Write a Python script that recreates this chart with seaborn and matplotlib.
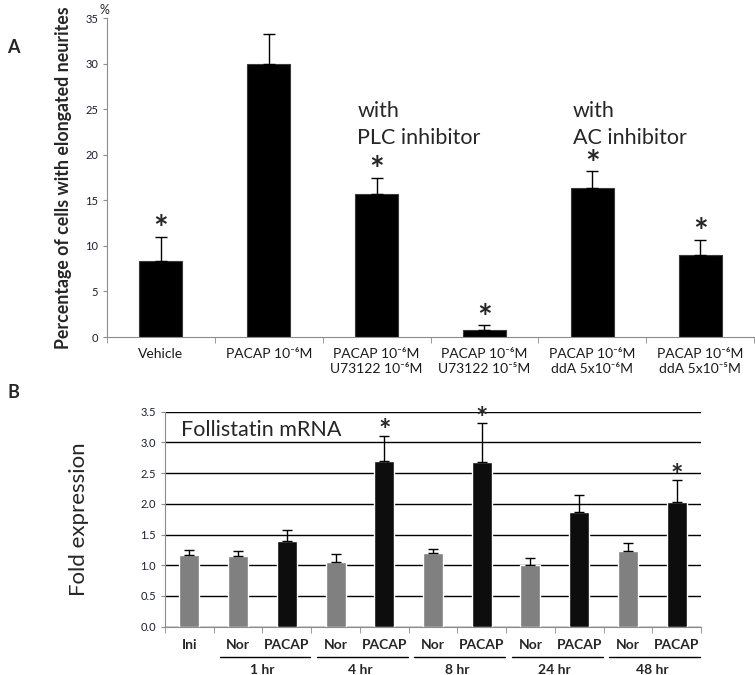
import numpy as np
import pandas as pd
import matplotlib
matplotlib.use("Agg")
import matplotlib.pyplot as plt
import matplotlib.transforms as mtransforms
import seaborn as sns

# Panel A data
a_labels = ["Vehicle", "PACAP 10⁻⁶M", "PACAP 10⁻⁶M\nU73122 10⁻⁶M",
            "PACAP 10⁻⁶M\nU73122 10⁻⁵M", "PACAP 10⁻⁶M\nddA 5x10⁻⁶M",
            "PACAP 10⁻⁶M\nddA 5x10⁻⁵M"]
a_values = [8.3, 30.0, 15.7, 0.8, 16.4, 9.0]
a_errors = [2.7, 3.2, 1.8, 0.5, 1.8, 1.7]
a_signif = [True, False, True, True, True, True]

# Panel B data
b_ids = ["Ini", "1 Nor", "1 PACAP", "4 Nor", "4 PACAP", "8 Nor", "8 PACAP",
         "24 Nor", "24 PACAP", "48 Nor", "48 PACAP"]
b_ticklabels = ["Ini", "Nor", "PACAP", "Nor", "PACAP", "Nor", "PACAP",
                "Nor", "PACAP", "Nor", "PACAP"]
b_kind = ["ctrl", "ctrl", "pacap", "ctrl", "pacap", "ctrl", "pacap",
          "ctrl", "pacap", "ctrl", "pacap"]
b_values = [1.17, 1.15, 1.39, 1.05, 2.70, 1.20, 2.68, 1.00, 1.87, 1.23, 2.03]
b_errors = [0.08, 0.09, 0.19, 0.13, 0.41, 0.06, 0.63, 0.11, 0.27, 0.14, 0.35]
b_signif = [False, False, False, False, True, False, True, False, False, False, True]
b_groups = ["1 hr", "4 hr", "8 hr", "24 hr", "48 hr"]

sns.set_style("white")
plt.rcParams['font.family'] = ['Lato', 'DejaVu Sans']

fig = plt.figure(figsize=(7.55, 6.75), dpi=100)
spine_col = "#8c8c8c"

# ---------------- Panel A ----------------
axA = fig.add_axes([0.1417, 0.5007, 0.857, 0.4726])
dfA = pd.DataFrame({"cond": a_labels, "value": a_values})
sns.barplot(data=dfA, x="cond", y="value", color="black", saturation=1,
            width=0.4, edgecolor="#3a3a3a", linewidth=0.8, ax=axA)
axA.errorbar(np.arange(len(a_values)), a_values, yerr=[np.zeros(len(a_errors)), a_errors],
             fmt="none", ecolor="black", elinewidth=1, capsize=4, capthick=1)
for i, (v, e, s) in enumerate(zip(a_values, a_errors, a_signif)):
    if s:
        axA.annotate("*", (i, v + e), xytext=(0, -7), textcoords="offset points",
                     ha="center", va="bottom", fontsize=25, fontweight="bold")
axA.set_ylim(0, 35)
axA.set_xlim(-0.5, 5.5)
axA.set_yticks(range(0, 36, 5))
axA.tick_params(axis="y", labelsize=8, colors="#1c1c33", length=3, direction="out", left=True)
axA.tick_params(axis="y", color=spine_col)
axA.set_xticks(range(6))
axA.set_xticklabels(a_labels, fontsize=10, linespacing=1.25)
axA.tick_params(axis="x", which="major", length=0, pad=8, labelcolor="#1a1a1a")
axA.set_xticks(np.arange(-0.5, 6, 1), minor=True)
axA.tick_params(axis="x", which="minor", length=4, color=spine_col, direction="out", bottom=True)
for side in ["top", "right"]:
    axA.spines[side].set_visible(False)
for side in ["left", "bottom"]:
    axA.spines[side].set_color(spine_col)
axA.set_xlabel("")
axA.set_ylabel("Percentage of cells with elongated neurites", fontsize=12.8,
               fontweight="bold", labelpad=9)
axA.text(1.82, 20.7, "with\nPLC inhibitor", fontsize=15.5,
         ha="left", va="bottom", linespacing=1.45)
axA.text(3.82, 20.7, "with\nAC inhibitor", fontsize=15.5,
         ha="left", va="bottom", linespacing=1.45)
fig.text(0.138, 0.985, "%", fontsize=9, ha="center", va="center")
fig.text(0.01, 0.93, "A", fontsize=13, fontweight="bold", va="center")

# ---------------- Panel B ----------------
axB = fig.add_axes([0.2185, 0.0716, 0.710, 0.3185])
dfB = pd.DataFrame({"id": b_ids, "value": b_values, "kind": b_kind})
sns.barplot(data=dfB, x="id", y="value", hue="kind", dodge=False, saturation=1,
            palette={"ctrl": "#808080", "pacap": "#0d0d0d"}, width=0.41,
            legend=False, ax=axB, zorder=3)
axB.errorbar(np.arange(len(b_values)), b_values, yerr=[np.zeros(len(b_errors)), b_errors],
             fmt="none", ecolor="black", elinewidth=1, capsize=3.5, capthick=1, zorder=4)
for i, (v, e, s) in enumerate(zip(b_values, b_errors, b_signif)):
    if s:
        axB.annotate("*", (i, v + e), xytext=(0, -6), textcoords="offset points",
                     ha="center", va="bottom", fontsize=21, fontweight="bold",
                     annotation_clip=False)
axB.set_ylim(0, 3.5)
axB.set_xlim(-0.5, 10.5)
axB.set_yticks(np.arange(0, 3.51, 0.5))
axB.set_yticklabels([f"{t:.1f}" for t in np.arange(0, 3.51, 0.5)])
axB.yaxis.grid(True, color="black", linewidth=1)
axB.set_axisbelow(True)
axB.tick_params(axis="y", labelsize=8, colors="#1c1c33", length=3, direction="out", left=True)
axB.tick_params(axis="y", color=spine_col)
axB.set_xticks(range(len(b_ids)))
axB.set_xticklabels(b_ticklabels, fontsize=10, fontweight="bold")
axB.tick_params(axis="x", which="major", length=0, pad=9)
axB.set_xticks(np.arange(-0.5, 11, 1), minor=True)
axB.tick_params(axis="x", which="minor", length=4, color=spine_col, direction="out", bottom=True)
for side in ["top", "right"]:
    axB.spines[side].set_visible(False)
for side in ["left", "bottom"]:
    axB.spines[side].set_color(spine_col)
axB.set_xlabel("")
axB.set_ylabel("Fold expression", fontsize=16, labelpad=37)
axB.text(0.03, 0.96, "Follistatin mRNA", transform=axB.transAxes, fontsize=15.5,
         ha="left", va="top")

trans = mtransforms.blended_transform_factory(axB.transData, axB.transAxes)
for g, name in enumerate(b_groups):
    start = 0.5 + 2 * g
    end = start + 2
    axB.plot([start + 0.12, end - 0.02], [-0.14, -0.14], color="black", linewidth=1,
             transform=trans, clip_on=False)
    axB.text((start + end) / 2, -0.2, name, transform=trans, fontsize=10,
             fontweight="bold", ha="center", va="center")
fig.text(0.01, 0.418, "B", fontsize=13, fontweight="bold", va="center")

fig.savefig("out.png", dpi=100)
